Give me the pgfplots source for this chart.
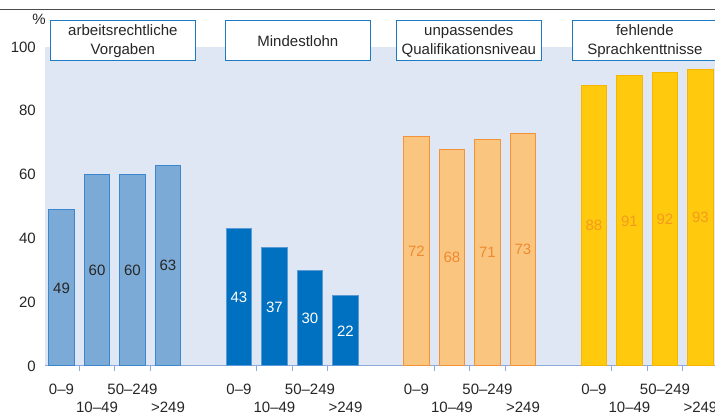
\documentclass[border=0pt]{standalone}
\usepackage{fontspec}
\setmainfont{Liberation Sans}
\usepackage{pgfplots}
\usepackage{pgfplotstable}
\pgfplotsset{compat=1.18}

\definecolor{bgblue}{HTML}{DFE6F4}
\definecolor{axisblue}{HTML}{8EAADB}
\definecolor{boxblue}{HTML}{1F7AC4}
\definecolor{txt}{HTML}{262626}
\definecolor{gAfill}{HTML}{7BAAD6}
\definecolor{gAline}{HTML}{3A87CF}
\definecolor{gBfill}{HTML}{0070C0}
\definecolor{gBline}{HTML}{5B9BD5}
\definecolor{gCfill}{HTML}{FAC57F}
\definecolor{gCline}{HTML}{F39237}
\definecolor{gCtxt}{HTML}{F08A30}
\definecolor{gDfill}{HTML}{FFC90D}
\definecolor{gDline}{HTML}{F7B500}
\definecolor{gDtxt}{HTML}{F49B1F}

% Anteile in %, je Betriebsgroesse
\pgfplotstableread{
x v
0 49
1 60
2 60
3 63
}\gA
\pgfplotstableread{
x v
5 43
6 37
7 30
8 22
}\gB
\pgfplotstableread{
x v
10 72
11 68
12 71
13 73
}\gC
\pgfplotstableread{
x v
15 88
16 91
17 92
18 93
}\gD

\begin{document}
\fontsize{15}{19}\selectfont
\begin{tikzpicture}[x=1pt,y=1pt]
\begin{axis}[
  at={(0,0)}, anchor=south west,
  scale only axis, width=670pt, height=319pt,
  xmin=-0.465, xmax=18.41, ymin=0, ymax=100,
  axis background/.style={fill=bgblue},
  axis x line*=bottom, axis y line*=left,
  x axis line style={color=axisblue, line width=1pt, -},
  y axis line style={draw=none},
  /pgf/number format/assume math mode=true,
  ticklabel style={text=txt},
  ytick={0,20,...,100},
  ytick style={draw=none},
  yticklabel style={xshift=-4pt},
  xtick={0,2,5,7,10,12,15,17},
  xticklabels={0--9,50--249,0--9,50--249,0--9,50--249,0--9,50--249},
  extra x ticks={1,3,6,8,11,13,16,18},
  extra x tick labels={10--49,>249,10--49,>249,10--49,>249,10--49,>249},
  extra x tick style={xticklabel style={yshift=-17.5pt}},
  xticklabel style={yshift=-13pt},
  major tick length=0pt,
  minor xtick={0.5,1.5,2.5,5.5,6.5,7.5,10.5,11.5,12.5,15.5,16.5,17.5},
  minor tick length=5pt,
  minor tick style={color=axisblue, line width=1pt},
  tick align=outside,
  clip=false,
]
\addplot[ybar, bar width=0.72, bar shift=0pt, fill=gAfill, draw=gAline, line width=1pt] table[x=x,y=v]{\gA};
\addplot[ybar, bar width=0.72, bar shift=0pt, fill=gBfill, draw=gBline, line width=1pt] table[x=x,y=v]{\gB};
\addplot[ybar, bar width=0.72, bar shift=0pt, fill=gCfill, draw=gCline, line width=1pt] table[x=x,y=v]{\gC};
\addplot[ybar, bar width=0.72, bar shift=0pt, fill=gDfill, draw=gDline, line width=1pt] table[x=x,y=v]{\gD};

\addplot[draw=none, mark=none, nodes near coords, point meta=explicit,
  nodes near coords style={text=txt, anchor=center}]
  table[x=x, y expr=\thisrow{v}/2, meta=v]{\gA};
\addplot[draw=none, mark=none, nodes near coords, point meta=explicit,
  nodes near coords style={text=white, anchor=center}]
  table[x=x, y expr=\thisrow{v}/2, meta=v]{\gB};
\addplot[draw=none, mark=none, nodes near coords, point meta=explicit,
  nodes near coords style={text=gCtxt, anchor=center}]
  table[x=x, y expr=\thisrow{v}/2, meta=v]{\gC};
\addplot[draw=none, mark=none, nodes near coords, point meta=explicit,
  nodes near coords style={text=gDtxt, anchor=center}]
  table[x=x, y expr=\thisrow{v}/2, meta=v]{\gD};
\end{axis}

\tikzset{titlebox/.style={draw=boxblue, fill=white, line width=1pt, text=txt,
  minimum width=145.7pt, minimum height=40pt, align=center, inner sep=0pt}}
\node[titlebox] at (77.85,325.3) {arbeitsrechtliche\\Vorgaben};
\node[titlebox] at (252.85,325.3) {Mindestlohn};
\node[titlebox] at (423.85,325.3) {unpassendes\\Qualifikationsniveau};
\node[titlebox] at (599.85,325.3) {fehlende\\Sprachkenttnisse};
\node[text=txt] at (-6,347) {\%};
\draw[color=black!70, line width=1.2pt] (-45,356.5) -- (670,356.5);

\pgfresetboundingbox
\useasboundingbox (-45,-48) rectangle (670,366);
\end{tikzpicture}
\end{document}
